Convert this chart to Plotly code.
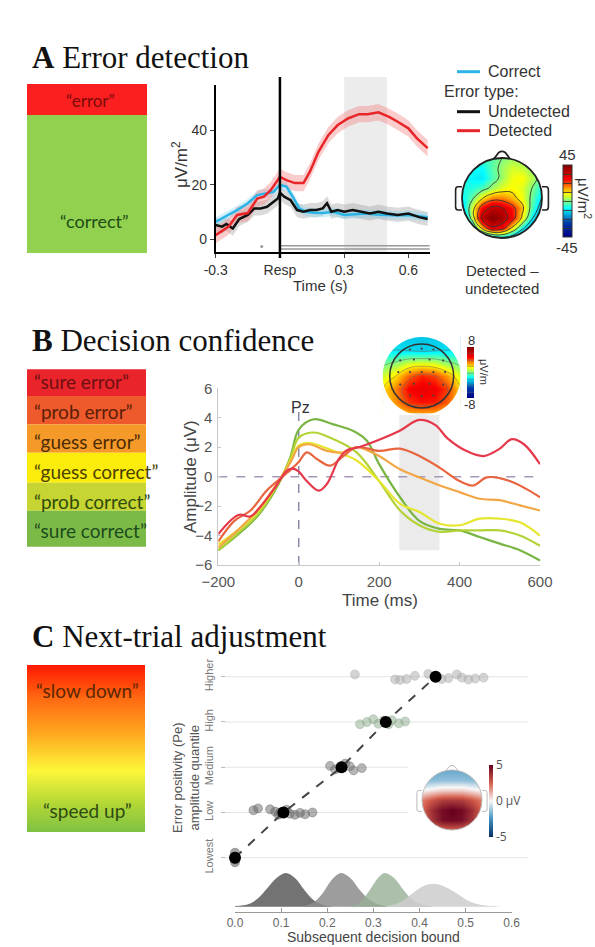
import numpy as np
import plotly.graph_objects as go

W, H = 595, 947
def X(px): return px / W
def Y(py): return 1 - py / H

# ---------------- Panel A data ----------------
a_time_detected = [-0.3,-0.24,-0.2,-0.15,-0.106,-0.075,-0.044,0,0.03,0.07,0.11,0.14,0.18,0.226,0.27,0.32,0.37,0.41,0.46,0.51,0.55,0.6,0.64,0.69]
a_detected = [1.6,4.7,9,9.7,15,15.7,18,23,21.8,20.7,20.7,24.9,32.2,38.3,42,44.5,46,46,46.7,45,43.2,40.8,37.1,33.5]
a_time_correct = [-0.3,-0.24,-0.2,-0.15,-0.106,-0.06,-0.03,0,0.03,0.06,0.09,0.12,0.16,0.2,0.25,0.3,0.35,0.4,0.45,0.5,0.55,0.6,0.65,0.69]
a_correct = [6.5,9,10.8,13.3,16.3,17,17.5,20,19.4,15.7,11.4,10.2,9.8,9.7,10.2,9,9.3,9.5,9.2,9,8.8,9,8.6,8.2]
a_time_undetected = [-0.3,-0.27,-0.25,-0.22,-0.19,-0.15,-0.12,-0.09,-0.06,-0.03,-0.01,0,0.02,0.05,0.08,0.11,0.14,0.17,0.2,0.22,0.24,0.27,0.3,0.34,0.38,0.42,0.46,0.5,0.55,0.6,0.65,0.69]
a_undetected = [5.3,4.7,5.7,4.0,7.5,9,11.4,11.4,12,13.8,15,17.2,15.7,14.4,10.8,10.2,10.8,10.8,11.4,13.3,10.2,10.8,10.2,10.8,10.2,9.5,10.2,9.5,9,9.5,8.2,7.5]
a_sem_detected = 3.0
a_sem_correct = 1.6
a_sem_undetected = 2.6
a_xticks = [-0.3, 0, 0.3, 0.6]
a_xticklabels = ["-0.3", "Resp", "0.3", "0.6"]
a_yticks = [0, 20, 40]

topo_a_coords = [-1,-0.75,-0.5,-0.25,0,0.25,0.5,0.75,1]
topo_a_rows_top_to_bottom = [
    [-6,-6,-5,-3,0,2,1,-2,-6],
    [-6,-8,-9,-3,2,6,5,1,-5],
    [-6,-10,-11,-4,2,8,9,4,-4],
    [-7,-7,-4,2,7,9,7,0,-8],
    [-10,-2,10,18,18,14,8,-2,-12],
    [-14,6,28,36,34,26,14,-4,-16],
    [-22,4,36,44,40,28,10,-10,-24],
    [-30,-14,14,32,28,10,-8,-22,-32],
    [-40,-38,-28,-18,-14,-18,-28,-38,-40],
]

# ---------------- Panel B data ----------------
b_time_sure_err = [-200,-150,-120,-100,-60,-30,-15,0,20,50,70,100,120,150,200,250,300,340,370,420,460,500,530,560,600]
b_sure_err = [-3.9,-2.6,-2.7,-2.2,-0.8,0.4,0.55,0.35,-0.3,-0.95,-0.5,1.2,1.8,2.0,2.5,3.1,3.85,3.5,2.6,1.7,1.4,1.9,2.55,2.2,0.85]
b_time_prob_err = [-200,-160,-120,-80,-40,-15,0,20,45,78,111,144,200,252,300,351,400,434,467,500,534,570,600]
b_prob_err = [-4.4,-3.0,-2.3,-0.95,0.0,0.6,1.0,1.65,1.2,0.75,1.4,2.0,1.75,1.9,1.4,0.6,-0.3,-0.6,-0.05,-0.1,-0.4,-0.9,-1.4]
b_time_guess_err = [-200,-150,-100,-50,-20,0,25,70,111,144,170,200,252,300,351,400,450,500,550,600]
b_guess_err = [-4.8,-3.6,-2.2,-0.3,1.0,2.0,2.2,1.75,1.65,2.0,1.8,1.4,0.5,-0.05,-0.6,-1.05,-1.5,-1.6,-1.95,-2.3]
b_time_guess_cor = [-200,-150,-100,-50,-20,0,25,86,144,200,252,300,351,400,450,500,550,600]
b_guess_cor = [-4.6,-3.6,-2.3,-0.4,1.1,2.1,2.3,1.75,1.1,-0.3,-1.85,-2.4,-3.2,-3.3,-2.85,-2.85,-3.1,-4.0]
b_time_prob_cor = [-200,-150,-100,-50,-20,0,37,86,144,200,252,300,351,400,450,500,550,600]
b_prob_cor = [-5.0,-3.8,-2.5,-0.4,1.3,2.65,3.0,2.55,1.65,-0.3,-2.3,-3.3,-3.75,-3.65,-3.65,-3.65,-4.0,-4.7]
b_time_sure_cor = [-200,-150,-100,-50,-20,0,37,86,136,169,200,252,300,351,400,450,500,550,600]
b_sure_cor = [-5.0,-3.9,-2.6,-0.5,1.4,3.2,3.9,3.55,3.1,2.45,0.85,-1.4,-3.0,-3.55,-3.65,-4.1,-4.55,-5.0,-5.7]
b_xticks = [-200, 0, 200, 400, 600]
b_yticks = [-6, -4, -2, 0, 2, 4, 6]
b_labels = ["\u201csure error\u201d", "\u201cprob error\u201d", "\u201cguess error\u201d",
            "\u201cguess correct\u201d", "\u201cprob correct\u201d", "\u201csure correct\u201d"]

topo_b_coords = [-1,-0.667,-0.333,0,0.333,0.667,1]
topo_b_rows_top_to_bottom = [
    [-2.5,-2.5,-2.5,-2.5,-2.5,-2.5,-2.5],
    [-2,-2,-2.2,-2.4,-2.2,-2,-2],
    [-0.3,0.2,1,1.2,1,0.2,-0.3],
    [1,2,3.6,4.4,4,2.8,1],
    [2,3.2,4.8,5.2,5,4,2],
    [2,3,4.2,4.6,4.5,3.6,2],
    [1.5,2,2.4,2.5,2.4,2,1.5],
]
topo_b_elec_x = [-0.3,0,0.3,-0.55,-0.2,0.2,0.55,-0.6,-0.3,0,0.3,0.6,-0.55,-0.2,0.2,0.55,-0.3,0,0.3]
topo_b_elec_y = [0.68,0.7,0.68,0.4,0.42,0.42,0.4,0.1,0.1,0.1,0.1,0.1,-0.22,-0.2,-0.2,-0.22,-0.5,-0.52,-0.5]

# ---------------- Panel C data ----------------
c_levels = ["Lowest", "Low", "Medium", "High", "Higher"]
c_level_pos = [1, 2, 3, 4, 5]
c_mean_bound = [0.0, 0.105, 0.231, 0.327, 0.435]
c_lowest_x = [0.0, 0.0, 0.001, -0.001, 0.0]
c_lowest_y = [0.9, 0.96, 1.02, 1.07, 1.11]
c_low_x = [0.04,0.05,0.076,0.087,0.094,0.098,0.112,0.119,0.13,0.141,0.152,0.168]
c_low_y = [2.05,2.09,2.07,2.02,1.95,2.0,2.06,1.97,1.95,1.99,1.96,2.0]
c_med_x = [0.206,0.217,0.228,0.239,0.249,0.257,0.275]
c_med_y = [3.03,2.95,2.98,3.08,3.02,2.93,2.98]
c_high_x = [0.271,0.286,0.3,0.311,0.322,0.333,0.34,0.355,0.369]
c_high_y = [3.95,4.0,4.06,3.96,4.03,3.95,4.04,3.97,4.01]
c_higher_x = [0.26,0.347,0.358,0.372,0.39,0.419,0.448,0.463,0.481,0.492,0.506,0.521,0.539]
c_higher_y = [5.05,4.94,4.93,4.95,5.02,5.06,4.95,4.97,5.05,4.98,4.94,4.96,4.98]
c_xticks = [0, 0.1, 0.2, 0.3, 0.4, 0.5, 0.6]
c_xticklabels = ["0.0", "0.1", "0.2", "0.3", "0.4", "0.5", "0.6"]

dens1_x = [0.0,0.03,0.05,0.07,0.09,0.11,0.13,0.15,0.17,0.19,0.21]
dens1_y = [0.02,0.08,0.25,0.55,0.85,1.0,0.85,0.5,0.2,0.06,0.01]
dens2_x = [0.15,0.17,0.19,0.21,0.23,0.25,0.27,0.29,0.31,0.33]
dens2_y = [0.02,0.12,0.4,0.8,1.0,0.85,0.5,0.22,0.07,0.01]
dens3_x = [0.25,0.27,0.29,0.31,0.325,0.345,0.365,0.385,0.41,0.43]
dens3_y = [0.02,0.12,0.45,0.85,1.0,0.85,0.5,0.2,0.05,0.01]
dens4_x = [0.33,0.36,0.39,0.41,0.43,0.45,0.48,0.51,0.54,0.57,0.6]
dens4_y = [0.02,0.15,0.45,0.62,0.68,0.62,0.4,0.15,0.04,0.01,0.0]

topo_c_coords = [-1,-0.667,-0.333,0,0.333,0.667,1]
topo_c_rows_top_to_bottom = [
    [-2,-2,-2,-2,-2,-2,-2],
    [-1.5,-1.5,-1.4,-1.4,-1.4,-1.5,-1.5],
    [0,0.3,0.6,0.6,0.6,0.3,0],
    [2,2.8,3.4,3.5,3.4,2.8,2],
    [2.4,3.8,4.7,5,4.7,3.8,2.4],
    [2.2,3.6,4.6,4.8,4.6,3.6,2.2],
    [1.5,2,2.5,2.5,2.5,2,1.5],
]
grad_levels = [0, 1]

# ---------------- helpers ----------------
def mask_path(R, r=1.0, n=90):
    sq = f"M {-R} {-R} L {R} {-R} L {R} {R} L {-R} {R} Z"
    ang = np.linspace(0, -2 * np.pi, n, endpoint=False)
    pts = " L ".join(f"{r*np.cos(a):.4f} {r*np.sin(a):.4f}" for a in ang)
    return sq + " M " + pts + " Z"

fig = go.Figure()
shapes = []
ann = []

def text(x, y, s, size=14, color="#333", family="Liberation Sans", xanchor="center", angle=0, yanchor="middle"):
    ann.append(dict(x=X(x), y=Y(y), xref="paper", yref="paper", text=s, showarrow=False,
                    font=dict(size=size, color=color, family=family), xanchor=xanchor,
                    yanchor=yanchor, textangle=angle))

def rect(x0, y0, x1, y1, color):
    shapes.append(dict(type="rect", xref="paper", yref="paper", x0=X(x0), x1=X(x1), y0=Y(y1), y1=Y(y0),
                       fillcolor=color, line=dict(width=0), layer="below"))

# ---------------- Panel A ----------------
text(30, 57, "<b>A</b> Error detection", size=31, color="#111", family="Liberation Serif", xanchor="left")
rect(27, 84, 147, 115, "#fb1f1f")
rect(27, 115, 147, 253, "#92d050")
text(90, 100, "\u201cerror\u201d", size=17, color="#7a0a0a", family="Lato")
text(94, 221, "\u201ccorrect\u201d", size=18, color="#1e4d14", family="Lato")

def band(t, v, sem, fillcolor, xa, ya):
    up = [a + sem for a in v]
    lo = [a - sem for a in v]
    fig.add_trace(go.Scatter(x=list(t) + list(t)[::-1], y=up + lo[::-1], fill="toself",
                             fillcolor=fillcolor, line=dict(width=0), hoverinfo="skip",
                             showlegend=False, xaxis=xa, yaxis=ya))

band(a_time_undetected, a_undetected, a_sem_undetected, "rgba(150,150,150,0.35)", "x", "y")
band(a_time_correct, a_correct, a_sem_correct, "rgba(120,210,240,0.35)", "x", "y")
band(a_time_detected, a_detected, a_sem_detected, "rgba(245,120,120,0.38)", "x", "y")
fig.add_trace(go.Scatter(x=a_time_correct, y=a_correct, mode="lines", line=dict(color="#2bb5e6", width=2.5),
                         showlegend=False, xaxis="x", yaxis="y"))
fig.add_trace(go.Scatter(x=a_time_undetected, y=a_undetected, mode="lines", line=dict(color="#111", width=2.5),
                         showlegend=False, xaxis="x", yaxis="y"))
fig.add_trace(go.Scatter(x=a_time_detected, y=a_detected, mode="lines", line=dict(color="#e8262a", width=2.5),
                         showlegend=False, xaxis="x", yaxis="y"))
fig.add_trace(go.Scatter(x=[-0.085], y=[-2.6], mode="markers", marker=dict(size=3, color="#999"),
                         showlegend=False, xaxis="x", yaxis="y"))

shapes.append(dict(type="rect", xref="x", yref="paper", x0=0.3, x1=0.5, y0=Y(252), y1=Y(77),
                   fillcolor="#ececec", line=dict(width=0), layer="below"))
shapes.append(dict(type="line", xref="x", yref="y", x0=0, x1=0.7, y0=-2.3, y1=-2.3, line=dict(color="#999", width=1.3)))
shapes.append(dict(type="line", xref="x", yref="y", x0=0, x1=0.7, y0=-3.5, y1=-3.5, line=dict(color="#999", width=1.3)))
shapes.append(dict(type="line", xref="x", yref="paper", x0=0, x1=0, y0=Y(258), y1=Y(77), line=dict(color="#000", width=2.5)))

text(320, 286, "Time (s)", size=15, color="#333")
text(180, 165, "\u03bcV/m<sup>2</sup>", size=17, color="#333", angle=-90)

# legend
for yy, col in [(71.7, "#2bb5e6"), (111.7, "#111"), (130.7, "#e8262a")]:
    shapes.append(dict(type="line", xref="paper", yref="paper", x0=X(457), x1=X(480), y0=Y(yy), y1=Y(yy),
                       line=dict(color=col, width=3)))
text(486, 71.7, "Correct", size=16, xanchor="left")
text(442, 91.7, "Error type:", size=16, xanchor="left")
text(486, 111.7, "Undetected", size=16, xanchor="left")
text(486, 130.7, "Detected", size=16, xanchor="left")

# topomap A
fig.add_trace(go.Contour(x=topo_a_coords, y=topo_a_coords, z=topo_a_rows_top_to_bottom[::-1],
                         colorscale="Jet", zmin=-45, zmax=45,
                         contours=dict(coloring="heatmap", start=-33.75, end=33.75, size=11.25),
                         line=dict(color="#333", width=0.9, smoothing=1.3),
                         colorbar=dict(x=X(563), xanchor="left", y=Y(201), yanchor="middle",
                                       len=72, lenmode="pixels", thickness=9, xpad=0, ypad=0,
                                       showticklabels=False, ticks="", outlinewidth=1, outlinecolor="#333"),
                         xaxis="x2", yaxis="y2", hoverinfo="skip"))
RA = 1.22
shapes.append(dict(type="path", xref="x2", yref="y2", path=mask_path(RA + 0.3, 1.0), fillcolor="white",
                   line=dict(width=0), layer="above"))
shapes.append(dict(type="circle", xref="x2", yref="y2", x0=-1, y0=-1, x1=1, y1=1, line=dict(color="#222", width=1.8)))
shapes.append(dict(type="path", xref="x2", yref="y2", path="M -0.2 0.98 L -0.08 1.14 Q 0 1.19 0.08 1.14 L 0.2 0.98",
                   line=dict(color="#222", width=1.8)))
for s in (-1, 1):
    shapes.append(dict(type="path", xref="x2", yref="y2",
                       path=f"M {s*1.0} 0.28 L {s*1.1} 0.28 Q {s*1.16} 0.28 {s*1.16} 0.2 L {s*1.16} -0.22 Q {s*1.16} -0.3 {s*1.1} -0.3 L {s*1.0} -0.3",
                       line=dict(color="#222", width=1.6)))
text(567, 155, "45", size=15, color="#333")
text(567, 248, "-45", size=15, color="#333")
text(584, 198, "\u03bcV/m<sup>2</sup>", size=15, color="#333", angle=90)
text(502, 270, "Detected \u2013", size=15, color="#333")
text(502, 288, "undetected", size=15, color="#333")

# ---------------- Panel B ----------------
text(30, 341, "<b>B</b> Decision confidence", size=31, color="#111", family="Liberation Serif", xanchor="left")
b_box_colors = ["#e9252b", "#ee5a2b", "#f59a28", "#fbec0c", "#c6d531", "#7cba47"]
b_bounds = [369.3, 396, 424.3, 452.7, 482.7, 510.7, 546.7]
b_text_y = [381.7, 411.7, 441.7, 471.7, 501, 530]
b_text_colors = ["#6e0f12", "#5a1e08", "#4d2a06", "#4a4200", "#2f4a0f", "#1d4a1d"]
for i in range(6):
    rect(27, b_bounds[i], 146, b_bounds[i + 1], b_box_colors[i])
    text(32, b_text_y[i], b_labels[i], size=19, color=b_text_colors[i], family="Lato", xanchor="left")

# topomap B (drawn before chart B)
fig.add_trace(go.Contour(x=topo_b_coords, y=topo_b_coords, z=topo_b_rows_top_to_bottom[::-1],
                         colorscale="Jet", zmin=-8, zmax=8,
                         contours=dict(coloring="heatmap", start=-6, end=6, size=2),
                         line=dict(color="#666", width=0.5, smoothing=1.3),
                         colorbar=dict(x=X(467), xanchor="left", y=Y(372.5), yanchor="middle",
                                       len=51, lenmode="pixels", thickness=7, xpad=0, ypad=0,
                                       showticklabels=False, ticks="", outlinewidth=0),
                         xaxis="x3", yaxis="y3", hoverinfo="skip"))
fig.add_trace(go.Scatter(x=topo_b_elec_x, y=topo_b_elec_y, mode="markers",
                         marker=dict(size=2.2, color="#444"), showlegend=False, xaxis="x3", yaxis="y3"))
shapes.append(dict(type="path", xref="x3", yref="y3", path=mask_path(1.3, 1.0), fillcolor="white",
                   line=dict(width=0), layer="above"))
shapes.append(dict(type="circle", xref="x3", yref="y3", x0=-0.82, y0=-0.82, x1=0.82, y1=0.82,
                   line=dict(color="#333", width=1.5)))
text(471, 340, "8", size=13, color="#333")
text(470, 405, "-8", size=13, color="#333")
text(484, 372, "\u03bcV/m", size=11, color="#333", angle=90)

# chart B
shapes.append(dict(type="rect", xref="x4", yref="y4", x0=250, x1=350, y0=-5, y1=4.3,
                   fillcolor="#ebebeb", line=dict(width=0), layer="below"))
shapes.append(dict(type="line", xref="x4", yref="y4", x0=-200, x1=600, y0=0, y1=0,
                   line=dict(color="#a898b8", width=1.5, dash="dash"), layer="below"))
shapes.append(dict(type="line", xref="x4", yref="y4", x0=0, x1=0, y0=-6, y1=4.4,
                   line=dict(color="#8888a8", width=1.5, dash="dash"), layer="below"))
b_series = [
    (b_time_sure_cor, b_sure_cor, "#78b543"),
    (b_time_prob_cor, b_prob_cor, "#b3d236"),
    (b_time_guess_cor, b_guess_cor, "#e6e62e"),
    (b_time_guess_err, b_guess_err, "#f2a645"),
    (b_time_prob_err, b_prob_err, "#e8653f"),
    (b_time_sure_err, b_sure_err, "#e5384a"),
]
for t, v, col in b_series:
    fig.add_trace(go.Scatter(x=t, y=v, mode="lines", line=dict(color=col, width=2.2, shape="spline", smoothing=1.0),
                             showlegend=False, xaxis="x4", yaxis="y4"))
text(300, 407, "Pz", size=16, color="#333")
text(380, 600, "Time (ms)", size=17, color="#444")
text(190, 476, "Amplitude (\u03bcV)", size=17, color="#444", angle=-90)

# ---------------- Panel C ----------------
text(30, 636, "<b>C</b> Next-trial adjustment", size=31, color="#111", family="Liberation Serif", xanchor="left")
fig.add_trace(go.Heatmap(x=[0, 1], y=[0, 1], z=[[grad_levels[0], grad_levels[0]], [grad_levels[1], grad_levels[1]]],
                         zsmooth="best", showscale=False, hoverinfo="skip",
                         colorscale=[[0, "#7cc143"], [0.18, "#b6d836"], [0.37, "#fdf73a"], [0.6, "#ffa51e"],
                                     [0.8, "#ff6a12"], [1, "#ff1a00"]],
                         xaxis="x8", yaxis="y8"))
text(87, 690, "\u201cslow down\u201d", size=19, color="#5c2800", family="Lato")
text(87, 810, "\u201cspeed up\u201d", size=19, color="#2f4a12", family="Lato")

# gridlines
for lvl, xe in zip(c_level_pos, [528, 408, 408, 528, 528]):
    shapes.append(dict(type="line", xref="paper", yref="y5", x0=X(224), x1=X(xe), y0=lvl, y1=lvl,
                       line=dict(color="#e4e4e4", width=1), layer="below"))

dens = [(dens1_x, dens1_y, "rgba(100,100,100,0.9)"), (dens2_x, dens2_y, "rgba(140,140,140,0.85)"),
        (dens3_x, dens3_y, "rgba(150,175,150,0.8)"), (dens4_x, dens4_y, "rgba(205,205,205,0.85)")]
for dx, dy, col in dens:
    fig.add_trace(go.Scatter(x=dx, y=dy, mode="lines", fill="tozeroy", fillcolor=col,
                             line=dict(width=0, shape="spline"), showlegend=False, xaxis="x5", yaxis="y6"))

pts = [(c_lowest_x, c_lowest_y, "rgba(90,90,90,0.55)"), (c_low_x, c_low_y, "rgba(100,100,100,0.5)"),
       (c_med_x, c_med_y, "rgba(110,110,110,0.5)"), (c_high_x, c_high_y, "rgba(140,170,140,0.5)"),
       (c_higher_x, c_higher_y, "rgba(170,170,170,0.5)")]
for px_, py_, col in pts:
    fig.add_trace(go.Scatter(x=px_, y=py_, mode="markers", cliponaxis=False,
                             marker=dict(size=9, color=col, line=dict(width=0.8, color=col)),
                             showlegend=False, xaxis="x5", yaxis="y5"))
fig.add_trace(go.Scatter(x=c_mean_bound, y=c_level_pos, mode="lines+markers", cliponaxis=False,
                         line=dict(color="#444", width=2, dash="dash"),
                         marker=dict(size=12, color="#000"), showlegend=False, xaxis="x5", yaxis="y5"))
text(373, 937, "Subsequent decision bound", size=14, color="#444")
text(186, 778, "Error positivity (Pe)<br>amplitude quantile", size=13, color="#555", angle=-90)

# topomap C
fig.add_trace(go.Heatmap(x=topo_c_coords, y=topo_c_coords, z=topo_c_rows_top_to_bottom[::-1], zsmooth="best",
                         zmin=-5, zmax=5,
                         colorscale=[[0, "#053061"], [0.25, "#4393c3"], [0.5, "#f7f7f7"], [0.75, "#d6604d"], [1, "#67001f"]],
                         colorbar=dict(x=X(489), xanchor="left", y=Y(801), yanchor="middle",
                                       len=72, lenmode="pixels", thickness=4, xpad=0, ypad=0,
                                       tickvals=[-5, 0, 5], ticktext=["-5", "0 \u03bcV", "5"], ticks="",
                                       tickfont=dict(size=12, color="#555"), outlinewidth=0),
                         xaxis="x7", yaxis="y7", hoverinfo="skip"))
RC = 1.22
shapes.append(dict(type="path", xref="x7", yref="y7", path=mask_path(RC + 0.3, 1.0), fillcolor="white",
                   line=dict(width=0), layer="above"))
shapes.append(dict(type="circle", xref="x7", yref="y7", x0=-1, y0=-1, x1=1, y1=1, line=dict(color="#bbb", width=1)))
shapes.append(dict(type="path", xref="x7", yref="y7", path="M -0.2 0.98 L -0.08 1.13 Q 0 1.18 0.08 1.13 L 0.2 0.98",
                   line=dict(color="#bbb", width=1)))
for s in (-1, 1):
    shapes.append(dict(type="path", xref="x7", yref="y7",
                       path=f"M {s*1.0} 0.32 L {s*1.1} 0.32 Q {s*1.17} 0.32 {s*1.17} 0.24 L {s*1.17} -0.3 Q {s*1.17} -0.38 {s*1.1} -0.38 L {s*1.0} -0.38",
                       line=dict(color="#bbb", width=1)))

# ---------------- layout ----------------
hidden = dict(visible=False, showgrid=False, zeroline=False)
layout = dict(
    width=W, height=H, autosize=False, margin=dict(l=0, r=0, t=0, b=0, pad=0, autoexpand=False),
    paper_bgcolor="white", plot_bgcolor="rgba(0,0,0,0)", showlegend=False,
    annotations=ann, shapes=shapes,
    xaxis=dict(domain=[X(215.7), X(429.8)], range=[-0.3, 0.7], anchor="y", showline=True, linecolor="#000",
               linewidth=1.5, ticks="outside", ticklen=4, tickvals=a_xticks, ticktext=a_xticklabels,
               tickfont=dict(size=14, color="#333", family="Liberation Sans"), showgrid=False, zeroline=False),
    yaxis=dict(domain=[Y(252), Y(85)], range=[-4.6, 56.7], anchor="x", showline=True, linecolor="#000",
               linewidth=1.5, ticks="outside", ticklen=4, tickvals=a_yticks,
               tickfont=dict(size=14, color="#333", family="Liberation Sans"), showgrid=False, zeroline=False),
    xaxis2=dict(domain=[X(502 - 40 * RA), X(502 + 40 * RA)], range=[-RA, RA], anchor="y2", **hidden),
    yaxis2=dict(domain=[Y(198 + 40 * RA), Y(198 - 40 * RA)], range=[-RA, RA], anchor="x2", **hidden),
    xaxis3=dict(domain=[X(421.7 - 39), X(421.7 + 39)], range=[-1, 1], anchor="y3", **hidden),
    yaxis3=dict(domain=[Y(376 + 39), Y(376 - 39)], range=[-1, 1], anchor="x3", **hidden),
    xaxis4=dict(domain=[X(218.3), X(540)], range=[-200, 600], anchor="y4", showline=True, linecolor="#c8c8c8",
                ticks="inside", ticklen=3, tickcolor="#c8c8c8", tickvals=b_xticks, ticklabelstandoff=3,
                tickfont=dict(size=15, color="#555", family="Liberation Sans"), showgrid=False, zeroline=False),
    yaxis4=dict(domain=[Y(565), Y(388.3)], range=[-6, 6], anchor="x4", showline=True, linecolor="#c8c8c8",
                ticks="inside", ticklen=3, tickcolor="#c8c8c8", tickvals=b_yticks, ticklabelstandoff=2,
                tickfont=dict(size=15, color="#555", family="Liberation Sans"), showgrid=False, zeroline=False),
    xaxis5=dict(domain=[X(235), X(511.7)], range=[0, 0.6], anchor="y5", showline=True, linecolor="#999",
                ticks="inside", ticklen=4, tickcolor="#999", tickvals=c_xticks, ticktext=c_xticklabels,
                tickfont=dict(size=12, color="#666", family="Liberation Sans"), showgrid=False, zeroline=False),
    yaxis5=dict(domain=[Y(911.7), Y(665)], range=[-0.193, 5.259], anchor="free", position=X(225),
                showline=False, ticks="outside", ticklen=4, tickcolor="#bbb", tickvals=c_level_pos,
                ticktext=c_levels, tickangle=-90, ticklabelstandoff=4,
                tickfont=dict(size=11, color="#777", family="Liberation Sans"),
                showgrid=False, zeroline=False),
    yaxis6=dict(overlaying="y5", range=[-0.148, 7.172], anchor="x5", **hidden),
    xaxis7=dict(domain=[X(452 - 30 * RC), X(452 + 30 * RC)], range=[-RC, RC], anchor="y7", **hidden),
    yaxis7=dict(domain=[Y(800 + 30 * RC), Y(800 - 30 * RC)], range=[-RC, RC], anchor="x7", **hidden),
    xaxis8=dict(domain=[X(27), X(145)], range=[0, 1], anchor="y8", **hidden),
    yaxis8=dict(domain=[Y(832), Y(665)], range=[0, 1], anchor="x8", **hidden),
)
fig.update_layout(**layout)
fig.write_html("out.html")
